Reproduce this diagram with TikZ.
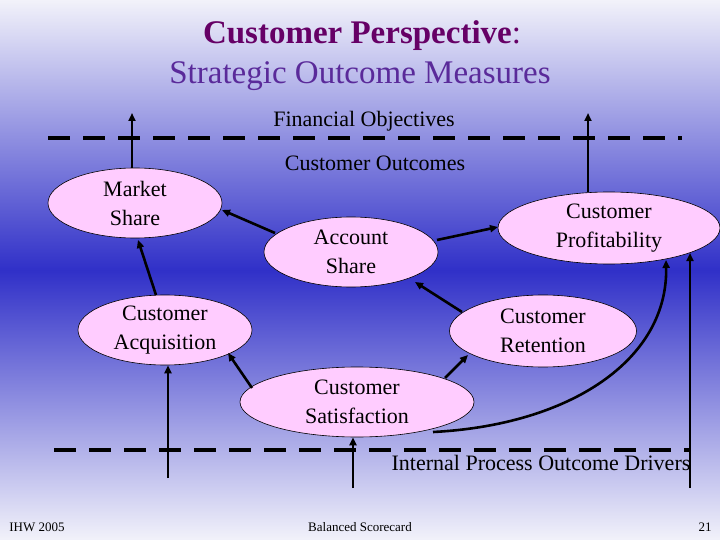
\documentclass[tikz,border=0pt]{standalone}
\usepackage{fontspec}
\setmainfont{Liberation Serif}
\usetikzlibrary{shapes.geometric,arrows.meta}
\definecolor{pinkfill}{HTML}{FFCCFF}
\definecolor{titlea}{HTML}{660066}
\definecolor{titleb}{HTML}{5A2A9A}
\definecolor{bgtop}{HTML}{F2F2FA}
\definecolor{bgmid}{HTML}{3030C8}
\begin{document}
\begin{tikzpicture}[x=1pt,y=-1pt,
  oval/.style={ellipse,draw=black,line width=0.6pt,fill=pinkfill,inner sep=0pt,align=center,font=\fontsize{22}{29}\selectfont},
  lbl/.style={font=\fontsize{22}{25}\selectfont,inner sep=0pt},
  arr/.style={line width=2.6pt,-{Triangle[length=8pt,width=7pt]}},
  dashline/.style={line width=4pt,dash pattern=on 22pt off 13pt}]
\shade[top color=bgtop,bottom color=bgtop,middle color=bgmid] (0,0) rectangle (720,540);
\useasboundingbox (0,0) rectangle (720,540);
\node (t1) at (362,36) {\fontsize{33}{35}\selectfont\color{titlea}\textbf{Customer Perspective}:};
\node (t2) at (360,76) {\fontsize{33}{35}\selectfont\color{titleb}Strategic Outcome Measures};
\coordinate (d1a) at (48,138); \coordinate (d1b) at (682,138);
\coordinate (d2a) at (54,450); \coordinate (d2b) at (690,450);
\draw[dashline] (d1a) -- (d1b);
\draw[dashline] (d2a) -- (d2b);
\node[lbl] (fo) at (364,121) {Financial Objectives};
\node[lbl] (co) at (375,163) {Customer Outcomes};
\node[lbl] (ip) at (541,463) {Internal Process Outcome Drivers};
\node[oval,minimum width=174pt,minimum height=70pt] (ms) at (135,203) {Market\\Share};
\node[oval,minimum width=174pt,minimum height=70pt] (as) at (351,252) {Account\\Share};
\node[oval,minimum width=222pt,minimum height=72pt] (cp) at (609,228) {Customer\\Profitability};
\node[oval,minimum width=174pt,minimum height=70pt] (ca) at (165,330) {Customer\\Acquisition};
\node[oval,minimum width=187pt,minimum height=72pt] (cr) at (543,331) {Customer\\Retention};
\node[oval,minimum width=234pt,minimum height=70pt] (cs) at (357,402) {Customer\\Satisfaction};
\coordinate (u1) at (132,113); \coordinate (u2) at (588,113);
\coordinate (b1) at (168,478); \coordinate (b2) at (353,488); \coordinate (b3) at (690,488);
\coordinate (e3) at (690,253);
\coordinate (asL) at (275,233); \coordinate (msR) at (222,210);
\coordinate (asR) at (437,240); \coordinate (cpL) at (498,227);
\coordinate (caT) at (156,295); \coordinate (msB) at (138,240);
\coordinate (crL) at (462,312); \coordinate (asB) at (415,282);
\coordinate (csL) at (252,388); \coordinate (caB) at (228,353);
\coordinate (csR) at (445,378); \coordinate (crB) at (468,355);
\coordinate (csB) at (433,432); \coordinate (cpB) at (666,260);
\draw[arr] (ms.north -| u1) -- (u1);
\draw[arr] (cp.north -| u2) -- (u2);
\draw[arr] (b1) -- (ca.south -| b1);
\draw[arr] (b2) -- (cs.south -| b2);
\draw[arr] (b3) -- (e3);
\draw[arr] (asL) -- (msR);
\draw[arr] (asR) -- (cpL);
\draw[arr] (caT) -- (msB);
\draw[arr] (crL) -- (asB);
\draw[arr] (csL) -- (caB);
\draw[arr] (csR) -- (crB);
\draw[arr] (csB) .. controls (570,425) and (668,360) .. (cpB);
\node[font=\fontsize{13}{15}\selectfont] (f1) at (37,527) {IHW 2005};
\node[font=\fontsize{13}{15}\selectfont] (f2) at (360,527) {Balanced Scorecard};
\node[font=\fontsize{13}{15}\selectfont] (f3) at (705,527) {21};
\end{tikzpicture}
\end{document}
